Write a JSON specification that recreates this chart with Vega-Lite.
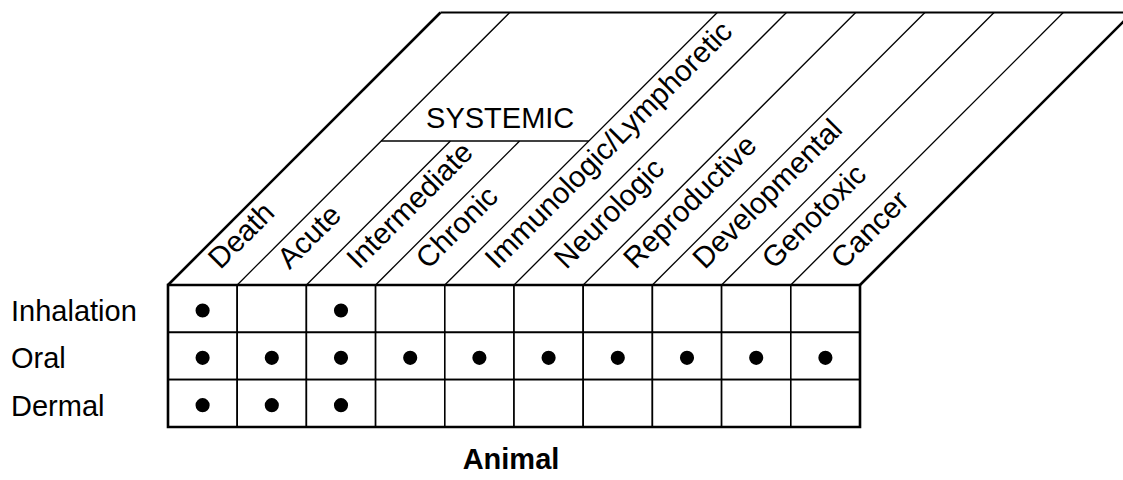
{
  "$schema": "https://vega.github.io/schema/vega-lite/v6.json",
  "width": 1123,
  "height": 480,
  "autosize": {"type": "none"},
  "padding": 0,
  "background": "white",
  "config": {
    "view": {"stroke": null},
    "text": {"font": "Liberation Sans", "fontSize": 29, "color": "black"}
  },
  "datasets": {
    "endpoints": [
      {"endpoint": "Death", "group": ""},
      {"endpoint": "Acute", "group": "SYSTEMIC"},
      {"endpoint": "Intermediate", "group": "SYSTEMIC"},
      {"endpoint": "Chronic", "group": "SYSTEMIC"},
      {"endpoint": "Immunologic/Lymphoretic", "group": ""},
      {"endpoint": "Neurologic", "group": ""},
      {"endpoint": "Reproductive", "group": ""},
      {"endpoint": "Developmental", "group": ""},
      {"endpoint": "Genotoxic", "group": ""},
      {"endpoint": "Cancer", "group": ""}
    ],
    "findings": [
      {"route": "Inhalation", "endpoint": "Death", "studied": "yes"},
      {"route": "Inhalation", "endpoint": "Acute", "studied": "no"},
      {"route": "Inhalation", "endpoint": "Intermediate", "studied": "yes"},
      {"route": "Inhalation", "endpoint": "Chronic", "studied": "no"},
      {"route": "Inhalation", "endpoint": "Immunologic/Lymphoretic", "studied": "no"},
      {"route": "Inhalation", "endpoint": "Neurologic", "studied": "no"},
      {"route": "Inhalation", "endpoint": "Reproductive", "studied": "no"},
      {"route": "Inhalation", "endpoint": "Developmental", "studied": "no"},
      {"route": "Inhalation", "endpoint": "Genotoxic", "studied": "no"},
      {"route": "Inhalation", "endpoint": "Cancer", "studied": "no"},
      {"route": "Oral", "endpoint": "Death", "studied": "yes"},
      {"route": "Oral", "endpoint": "Acute", "studied": "yes"},
      {"route": "Oral", "endpoint": "Intermediate", "studied": "yes"},
      {"route": "Oral", "endpoint": "Chronic", "studied": "yes"},
      {"route": "Oral", "endpoint": "Immunologic/Lymphoretic", "studied": "yes"},
      {"route": "Oral", "endpoint": "Neurologic", "studied": "yes"},
      {"route": "Oral", "endpoint": "Reproductive", "studied": "yes"},
      {"route": "Oral", "endpoint": "Developmental", "studied": "yes"},
      {"route": "Oral", "endpoint": "Genotoxic", "studied": "yes"},
      {"route": "Oral", "endpoint": "Cancer", "studied": "yes"},
      {"route": "Dermal", "endpoint": "Death", "studied": "yes"},
      {"route": "Dermal", "endpoint": "Acute", "studied": "yes"},
      {"route": "Dermal", "endpoint": "Intermediate", "studied": "yes"},
      {"route": "Dermal", "endpoint": "Chronic", "studied": "no"},
      {"route": "Dermal", "endpoint": "Immunologic/Lymphoretic", "studied": "no"},
      {"route": "Dermal", "endpoint": "Neurologic", "studied": "no"},
      {"route": "Dermal", "endpoint": "Reproductive", "studied": "no"},
      {"route": "Dermal", "endpoint": "Developmental", "studied": "no"},
      {"route": "Dermal", "endpoint": "Genotoxic", "studied": "no"},
      {"route": "Dermal", "endpoint": "Cancer", "studied": "no"}
    ],
    "caption": [{"label": "Animal"}]
  },
  "layer": [
    {
      "data": {"name": "findings"},
      "transform": [
        {"window": [{"op": "count", "as": "c0"}], "frame": [null, -1], "groupby": ["route"]},
        {"window": [{"op": "row_number", "as": "c1"}], "groupby": ["route"]},
        {"window": [{"op": "count", "as": "r0"}], "frame": [null, -1], "groupby": ["endpoint"]},
        {"window": [{"op": "row_number", "as": "r1"}], "groupby": ["endpoint"]}
      ],
      "layer": [
        {
          "mark": {"type": "rect", "fill": "white", "stroke": "black", "strokeWidth": 1.6},
          "encoding": {
            "x": {"field": "c0", "type": "quantitative", "scale": {"domain": [-2.4277, 13.8006], "nice": false, "zero": false}, "axis": null},
            "x2": {"field": "c1"},
            "y": {"field": "r0", "type": "quantitative", "scale": {"domain": [-6.0216, 4.12], "reverse": true, "nice": false, "zero": false}, "axis": null},
            "y2": {"field": "r1"}
          }
        },
        {
          "mark": {"type": "rect", "fillOpacity": 0, "stroke": "black", "strokeWidth": 2.6},
          "encoding": {
            "x": {"aggregate": "min", "field": "c0", "type": "quantitative", "scale": {"domain": [-2.4277, 13.8006], "nice": false, "zero": false}, "axis": null},
            "x2": {"aggregate": "max", "field": "c1"},
            "y": {"aggregate": "min", "field": "r0", "type": "quantitative", "scale": {"domain": [-6.0216, 4.12], "reverse": true, "nice": false, "zero": false}, "axis": null},
            "y2": {"aggregate": "max", "field": "r1"}
          }
        },
        {
          "transform": [{"filter": "datum.studied == 'yes'"}],
          "mark": {"type": "point", "filled": true, "color": "black", "opacity": 1, "size": 200, "shape": "circle", "xOffset": 34.6, "yOffset": 25.5},
          "encoding": {
            "x": {"field": "c0", "type": "quantitative", "scale": {"domain": [-2.4277, 13.8006], "nice": false, "zero": false}, "axis": null},
            "y": {"field": "r0", "type": "quantitative", "scale": {"domain": [-6.0216, 4.12], "reverse": true, "nice": false, "zero": false}, "axis": null}
          }
        },
        {
          "transform": [{"filter": "datum.endpoint == 'Death'"}],
          "mark": {"type": "text", "align": "left", "baseline": "middle", "dx": -157, "dy": 27},
          "encoding": {
            "x": {"field": "c0", "type": "quantitative", "scale": {"domain": [-2.4277, 13.8006], "nice": false, "zero": false}, "axis": null},
            "y": {"field": "r0", "type": "quantitative", "scale": {"domain": [-6.0216, 4.12], "reverse": true, "nice": false, "zero": false}, "axis": null},
            "text": {"field": "route"}
          }
        }
      ]
    },
    {
      "data": {"name": "endpoints"},
      "transform": [
        {"window": [{"op": "count", "as": "c0"}], "frame": [null, -1]},
        {"window": [{"op": "row_number", "as": "c1"}]},
        {"window": [{"op": "row_number", "as": "gi"}], "groupby": ["group"]}
      ],
      "layer": [
        {
          "transform": [{"filter": "datum.group != 'SYSTEMIC' || datum.gi == 1"}],
          "mark": {"type": "rule", "color": "black", "x2Offset": 272.5},
          "encoding": {
            "x": {"field": "c0", "type": "quantitative", "scale": {"domain": [-2.4277, 13.8006], "nice": false, "zero": false}, "axis": null},
            "x2": {"field": "c0"},
            "y": {"datum": 0, "type": "quantitative", "scale": {"domain": [-6.0216, 4.12], "reverse": true, "nice": false, "zero": false}, "axis": null},
            "y2": {"datum": -5.757},
            "strokeWidth": {"condition": {"test": "datum.c0 == 0", "value": 2.6}, "value": 1.3}
          }
        },
        {
          "transform": [{"filter": "datum.group == 'SYSTEMIC' && datum.gi > 1"}],
          "mark": {"type": "rule", "color": "black", "strokeWidth": 1.3, "x2Offset": 144},
          "encoding": {
            "x": {"field": "c0", "type": "quantitative", "scale": {"domain": [-2.4277, 13.8006], "nice": false, "zero": false}, "axis": null},
            "x2": {"field": "c0"},
            "y": {"datum": 0, "type": "quantitative", "scale": {"domain": [-6.0216, 4.12], "reverse": true, "nice": false, "zero": false}, "axis": null},
            "y2": {"datum": -3.0425}
          }
        },
        {
          "transform": [{"filter": "datum.endpoint == 'Cancer'"}],
          "mark": {"type": "rule", "color": "black", "strokeWidth": 2.6, "x2Offset": 272.5},
          "encoding": {
            "x": {"field": "c1", "type": "quantitative", "scale": {"domain": [-2.4277, 13.8006], "nice": false, "zero": false}, "axis": null},
            "x2": {"field": "c1"},
            "y": {"datum": 0, "type": "quantitative", "scale": {"domain": [-6.0216, 4.12], "reverse": true, "nice": false, "zero": false}, "axis": null},
            "y2": {"datum": -5.757}
          }
        },
        {
          "mark": {"type": "rule", "color": "black", "strokeWidth": 2.2, "xOffset": 272.5, "x2Offset": 272.5},
          "encoding": {
            "x": {"aggregate": "min", "field": "c0", "type": "quantitative", "scale": {"domain": [-2.4277, 13.8006], "nice": false, "zero": false}, "axis": null},
            "x2": {"aggregate": "max", "field": "c1"},
            "y": {"datum": -5.757, "type": "quantitative", "scale": {"domain": [-6.0216, 4.12], "reverse": true, "nice": false, "zero": false}, "axis": null}
          }
        },
        {
          "transform": [{"filter": "datum.group == 'SYSTEMIC'"}],
          "mark": {"type": "rule", "color": "black", "strokeWidth": 1.6, "xOffset": 144, "x2Offset": 144},
          "encoding": {
            "x": {"aggregate": "min", "field": "c0", "type": "quantitative", "scale": {"domain": [-2.4277, 13.8006], "nice": false, "zero": false}, "axis": null},
            "x2": {"aggregate": "max", "field": "c1"},
            "y": {"datum": -3.0425, "type": "quantitative", "scale": {"domain": [-6.0216, 4.12], "reverse": true, "nice": false, "zero": false}, "axis": null}
          }
        },
        {
          "transform": [{"filter": "datum.group == 'SYSTEMIC'"}],
          "mark": {"type": "text", "align": "center", "baseline": "alphabetic", "dx": 263, "dy": -13},
          "encoding": {
            "x": {"aggregate": "min", "field": "c0", "type": "quantitative", "scale": {"domain": [-2.4277, 13.8006], "nice": false, "zero": false}, "axis": null},
            "y": {"datum": -3.0425, "type": "quantitative", "scale": {"domain": [-6.0216, 4.12], "reverse": true, "nice": false, "zero": false}, "axis": null},
            "text": {"field": "group"}
          }
        },
        {
          "mark": {"type": "text", "align": "left", "baseline": "middle", "angle": 315, "fontSize": 29.5, "dx": 47.5, "dy": 17.5},
          "encoding": {
            "x": {"field": "c0", "type": "quantitative", "scale": {"domain": [-2.4277, 13.8006], "nice": false, "zero": false}, "axis": null},
            "y": {"datum": 0, "type": "quantitative", "scale": {"domain": [-6.0216, 4.12], "reverse": true, "nice": false, "zero": false}, "axis": null},
            "text": {"field": "endpoint"}
          }
        }
      ]
    },
    {
      "data": {"name": "caption"},
      "mark": {"type": "text", "align": "center", "baseline": "alphabetic", "fontWeight": "bold", "dx": -3, "dy": 42},
      "encoding": {
        "x": {"datum": 5, "type": "quantitative", "scale": {"domain": [-2.4277, 13.8006], "nice": false, "zero": false}, "axis": null},
        "y": {"datum": 3, "type": "quantitative", "scale": {"domain": [-6.0216, 4.12], "reverse": true, "nice": false, "zero": false}, "axis": null},
        "text": {"field": "label"}
      }
    }
  ]
}
